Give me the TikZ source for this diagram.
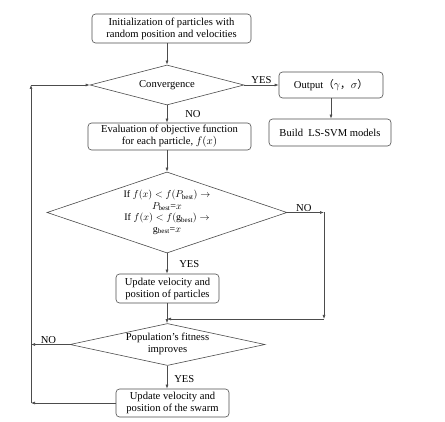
\documentclass[tikz,border=0pt]{standalone}
\usepackage{fontspec}
\setmainfont{Liberation Serif}
\newfontfamily\cjk{Noto Sans CJK SC}
\usepackage{tikz}
\usetikzlibrary{arrows.meta,shapes.geometric}

% text inside a diamond that leaves the diamond's size alone
\newcommand\flattext[1]{\makebox[0pt]{\smash{\raisebox{-2.6pt}{%
  \begin{tabular}{@{}c@{}}#1\end{tabular}}}}}

\begin{document}
\begin{tikzpicture}[
  x=1pt, y=-1pt,
  font=\fontsize{10.6}{12}\selectfont,
  proc/.style={draw=black!70, rounded corners=3.5pt, line width=0.6pt,
    align=center, inner sep=1pt},
  cond/.style={draw=black!70, diamond, line width=0.6pt, inner sep=0pt},
  flow/.style={-{Latex[length=4pt,width=3pt]}, line width=0.6pt, draw=black!70},
  edge label/.style={inner sep=1pt}
]
\useasboundingbox (0,0) rectangle (445,422);

\node[proc, minimum width=159pt, minimum height=29pt] (init) at (171.5,28.5) {
  Initialization of particles with\\random position and velocities};
\node[cond, minimum width=154pt, minimum height=40pt] (conv) at (167,85)
  {\flattext{Convergence}};
\node[proc, minimum width=104pt, minimum height=26pt] (out) at (331,85)
  {Output{\cjk （}$\gamma${\cjk ，}$\sigma${\cjk ）}};
\node[proc, minimum width=122pt, minimum height=27pt] (build) at (330,132.5)
  {Build\ \ LS-SVM models};
\node[proc, minimum width=163pt, minimum height=27pt] (eval) at (169.5,136.5) {
  Evaluation of objective function\\for each particle, $f(x)$};
\node[cond, minimum width=240pt, minimum height=81pt,
  font=\fontsize{10}{11.5}\selectfont] (dec) at (167,212.5) {
  \flattext{If $f(x) < f(P_{\mathrm{best}}) \rightarrow$\\
  $P_{\mathrm{best}}$=$x$\\
  If $f(x) < f(\mathrm{g}_{\mathrm{best}}) \rightarrow$\\
  $\mathrm{g}_{\mathrm{best}}$=$x$}};
\node[proc, minimum width=103pt, minimum height=29pt] (upd) at (167.5,288.5) {
  Update velocity and\\position of particles};
\node[cond, minimum width=195pt, minimum height=42pt] (pop) at (167.5,344.5) {
  \flattext{Population’s fitness\\improves}};
\node[proc, minimum width=113pt, minimum height=28pt] (swarm) at (172.5,403) {
  Update velocity and\\position of the swarm};

\coordinate (noR) at (324,212.5);
\coordinate (noD) at (324,319);
\coordinate (join) at (167,319);
\coordinate (noL) at (31,344.5);
\coordinate (back) at (31,403);
\coordinate (top) at (31,85);

\draw[flow] (init.south -| conv.north) -- (conv.north);
\draw[flow] (conv.east) -- node[edge label, above] {YES} (out.west);
\draw[flow] (out.south) -- (out.south |- build.north);
\draw[flow] (conv.south) -- node[edge label, right, xshift=17pt] {NO}
  (conv.south |- eval.north);
\draw[flow] (conv.south |- eval.south) -- (dec.north);
\draw[flow] (dec.south) -- node[edge label, right, xshift=11pt, yshift=-1pt] {YES}
  (dec.south |- upd.north);
\draw[flow] (dec.east) -- node[edge label, above, pos=0.45] {NO} (noR);
\draw[flow] (noR) -- (noD);
\draw[flow] (noD) -- (join);
\draw[flow] (dec.south |- upd.south) -- (dec.south |- pop.north);
\draw[flow] (pop.west) -- node[edge label, above, pos=0.55] {NO} (noL);
\draw[flow] (dec.south |- pop.south) -- node[edge label, right, xshift=6pt, yshift=-2pt] {YES}
  (dec.south |- swarm.north);
\draw[flow] (swarm.west) -- (back);
\draw[flow] (back) -- (top);
\draw[flow] (top) -- (conv.west);
\end{tikzpicture}
\end{document}
